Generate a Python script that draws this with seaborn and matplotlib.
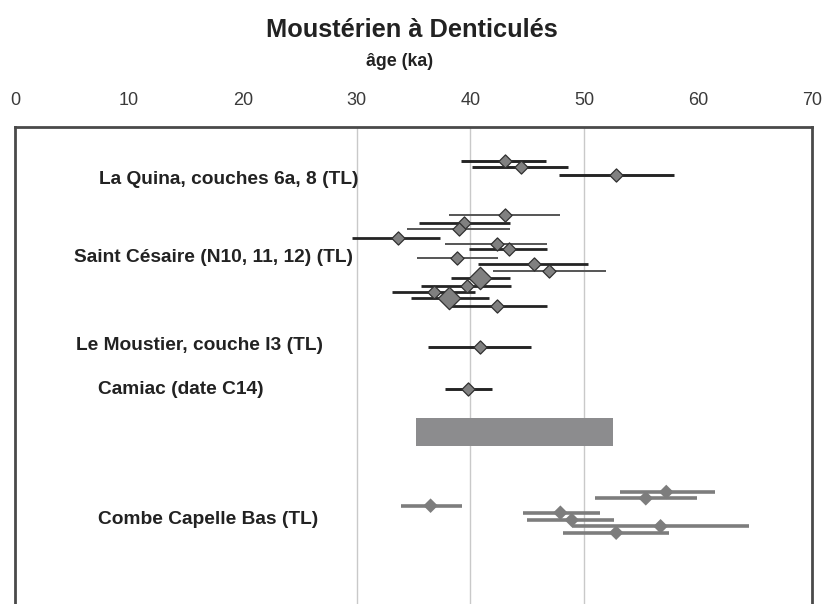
import matplotlib
matplotlib.use("Agg")
import matplotlib.pyplot as plt
import seaborn as sns
import pandas as pd
import numpy as np

# ---- data (ages in ka) ----
site_labels = ["La Quina, couches 6a, 8 (TL)", "Saint Césaire (N10, 11, 12) (TL)",
               "Le Moustier, couche I3 (TL)", "Camiac (date C14)", "Combe Capelle Bas (TL)"]

laquina_age = [43.0, 44.4, 52.8]
laquina_lo = [39.2, 40.1, 47.8]
laquina_hi = [46.6, 48.6, 57.9]

stcesaire_age = [43.0, 39.4, 39.0, 33.6, 42.3, 43.4, 38.8, 45.6, 46.9, 40.8, 39.7, 36.8, 38.1, 42.3]
stcesaire_lo = [38.1, 35.5, 34.4, 29.6, 37.8, 39.9, 35.3, 40.7, 42.0, 38.3, 35.7, 33.1, 34.8, 38.0]
stcesaire_hi = [47.9, 43.5, 43.5, 37.3, 46.7, 46.7, 42.4, 50.3, 51.9, 43.5, 43.6, 40.4, 41.6, 46.7]
stcesaire_big = [False]*9 + [True, False, False, True, False]
stcesaire_dark = [False, True, False, True, False, True, False, True, False, True, True, True, True, True]

moustier_age = [40.8]
moustier_lo = [36.3]
moustier_hi = [45.3]

camiac_age = [39.8]
camiac_lo = [37.8]
camiac_hi = [41.9]

range_lo = 35.2
range_hi = 52.5

combe_age = [57.2, 55.4, 36.5, 47.9, 48.9, 56.7, 52.8]
combe_lo = [53.1, 50.9, 33.9, 44.6, 45.0, 48.9, 48.1]
combe_hi = [61.5, 59.9, 39.3, 51.4, 52.6, 64.5, 57.4]

x_ticks = [0, 10, 20, 30, 40, 50, 60, 70]
grid_x = [30, 40, 50]

# ---- layout (row positions, style) ----
laquina_row = [34, 40.3, 48]
stcesaire_row = [88.3, 95.7, 102.3, 110.7, 116.7, 122.3, 130.7, 136.7, 144, 150.7, 158.5, 165.3, 171, 178.7]
moustier_row = [220]
camiac_row = [262.3]
range_row = 304.7
combe_row = [365, 371.3, 378.7, 385.7, 393, 399.3, 405.7]
label_pos = [(7.4, 53), (5.2, 131), (5.4, 219), (7.3, 262), (7.3, 392)]

sns.set_theme(style="white")
plt.rcParams['font.family'] = ['Liberation Sans', 'DejaVu Sans']

fig = plt.figure(figsize=(8.23, 6.04), dpi=100)
ax = fig.add_axes([15/823, 0.0, 797/823, (604-127)/604])

dark = "#242424"
mid = "#555555"
mgray = "#7d7d7d"

for gx in grid_x:
    ax.axvline(gx, color="#c9c9c9", lw=1.0, zorder=0)

# La Quina
ax.hlines(laquina_row, laquina_lo, laquina_hi, color=dark, lw=2.1, zorder=2)
# Saint Cesaire
for r, lo, hi, d in zip(stcesaire_row, stcesaire_lo, stcesaire_hi, stcesaire_dark):
    ax.hlines(r, lo, hi, color=dark if d else mid, lw=2.0 if d else 1.4, zorder=2)
ax.hlines(moustier_row, moustier_lo, moustier_hi, color=dark, lw=2.1, zorder=2)
ax.hlines(camiac_row, camiac_lo, camiac_hi, color=dark, lw=2.1, zorder=2)
ax.hlines(combe_row, combe_lo, combe_hi, color=mgray, lw=2.6, zorder=2)

ax.barh([range_row], [range_hi - range_lo], left=[range_lo], height=28,
        color="#8c8c8e", edgecolor="none", zorder=2)

small = pd.DataFrame({
    "age": laquina_age + [a for a, b in zip(stcesaire_age, stcesaire_big) if not b] + moustier_age + camiac_age,
    "row": laquina_row + [r for r, b in zip(stcesaire_row, stcesaire_big) if not b] + moustier_row + camiac_row,
})
big = pd.DataFrame({
    "age": [a for a, b in zip(stcesaire_age, stcesaire_big) if b],
    "row": [r for r, b in zip(stcesaire_row, stcesaire_big) if b],
})
combe = pd.DataFrame({"age": combe_age, "row": combe_row})

sns.scatterplot(data=small, x="age", y="row", marker="D", s=45, color="#808080",
                edgecolor="#303030", linewidth=0.9, ax=ax, zorder=3)
sns.scatterplot(data=big, x="age", y="row", marker="D", s=130, color="#808080",
                edgecolor="#303030", linewidth=0.9, ax=ax, zorder=3)
sns.scatterplot(data=combe, x="age", y="row", marker="D", s=55, color="#7d7d7d",
                edgecolor="none", ax=ax, zorder=3)

for lab, (lx, ly) in zip(site_labels, label_pos):
    ax.text(lx, ly, lab, fontsize=13.8, fontweight="bold", color="#222222",
            ha="left", va="center")

ax.set_xlim(0, 70)
ax.set_ylim(477, 0)
ax.set_xticks(x_ticks)
ax.set_yticks([])
ax.xaxis.tick_top()
ax.tick_params(axis="x", length=0, pad=13, labelsize=13, labelcolor="#3a3a3a")
ax.set_xlabel("")
ax.set_ylabel("")
for side in ["top", "left", "right"]:
    ax.spines[side].set_color("#4a4a4a")
    ax.spines[side].set_linewidth(2.0)
ax.spines["bottom"].set_visible(False)

fig.text(412/823, 1 - 30/604, "Moustérien à Denticulés", ha="center", va="center",
         fontsize=18.3, fontweight="bold", color="#222222")
fig.text(400/823, 1 - 62/604, "âge (ka)", ha="center", va="center",
         fontsize=12.8, fontweight="bold", color="#222222")

fig.savefig("out.png", dpi=100)
